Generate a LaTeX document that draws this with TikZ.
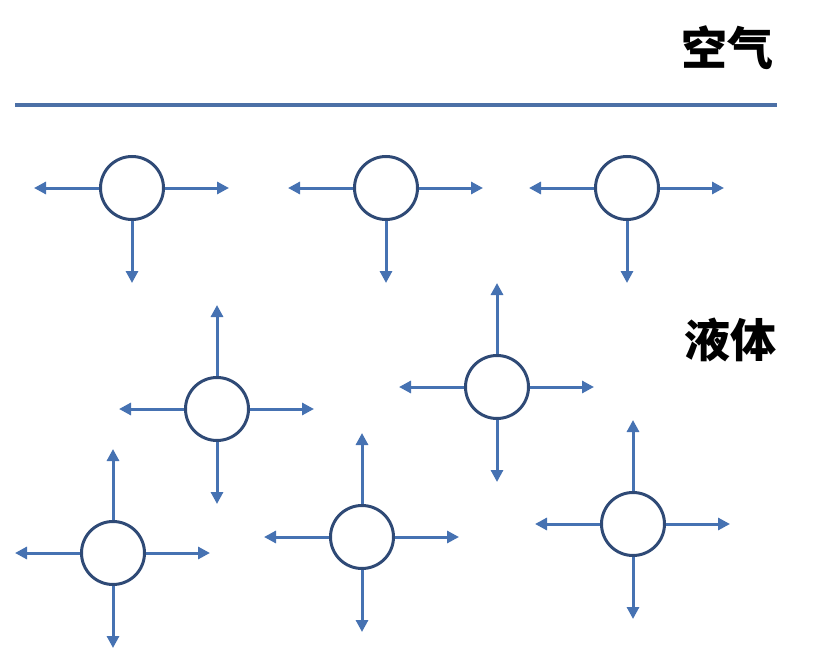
\documentclass[tikz,border=0pt]{standalone}
\usepackage{fontspec}
\newfontfamily\cjk{Noto Sans CJK SC}
\usepackage{tikz}
\usetikzlibrary{arrows.meta, positioning}
\definecolor{arrowblue}{RGB}{70, 114, 178}
\definecolor{ringblue}{RGB}{47, 74, 118}
\definecolor{lineblue}{RGB}{76, 112, 166}

\begin{document}
\begin{tikzpicture}[x=1pt, y=-1pt,
  mol/.style={circle, draw=ringblue, line width=3pt, minimum size=63pt, inner sep=0pt},
  force/.style={-{Triangle[length=12pt,width=12pt]}, draw=arrowblue, line width=3pt},
  phase/.style={font=\cjk\bfseries\fontsize{46}{52}\selectfont, text=black, inner sep=0pt}]
  \useasboundingbox (0,0) rectangle (822,661);

  % Phase labels and surface
  \node[phase] (air) at (727,48) {空气};
  \node[phase] (liquid) at (730,340) {液体};
  \coordinate (surfL) at (15,105);
  \coordinate (surfR) at (777,105);
  \draw[draw=lineblue, line width=4.5pt] (surfL) -- (surfR);

  % Molecules at the surface: no upward pull
  \foreach \n/\x in {s1/132, s2/386, s3/627} {
    \node[mol] (\n) at (\x,188) {};
    \draw[force] (\n.west) -- ++(-65,0);
    \draw[force] (\n.east) -- ++(64,0);
    \draw[force] (\n.south) -- ++(0,62);
  }

  % Molecules inside the liquid: pulled every way
  \foreach \n/\x/\y in {b1/217/409, b2/497/387, b3/113/553, b4/362/537, b5/633/524} {
    \node[mol] (\n) at (\x,\y) {};
    \draw[force] (\n.west) -- ++(-65,0);
    \draw[force] (\n.east) -- ++(64,0);
    \draw[force] (\n.north) -- ++(0,-71);
    \draw[force] (\n.south) -- ++(0,62);
  }
\end{tikzpicture}
\end{document}
